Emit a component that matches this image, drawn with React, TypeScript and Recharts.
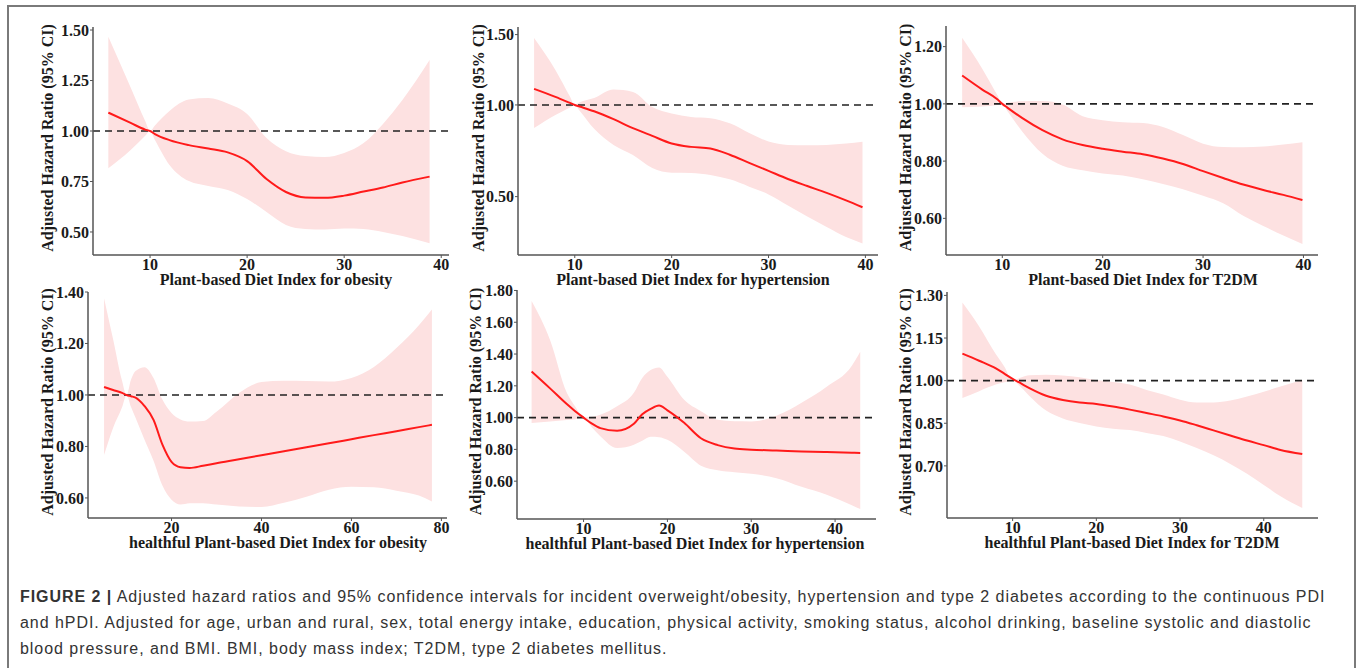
import { ComposedChart, Area, Line, XAxis, YAxis, ReferenceLine } from "recharts";

const serif = '"Liberation Serif", "Times New Roman", serif';
const sans = '"Liberation Sans", Arial, Helvetica, sans-serif';
const yTitle = "Adjusted Hazard Ratio (95% CI)";

// PDI - obesity
const pdiObX = [5.7, 8, 9.5, 10, 10.5, 12, 14, 16, 18, 20, 22, 24, 26, 28, 30, 32, 34, 36, 38.8];
const pdiObHr = [1.091, 1.04, 1.007, 1.0, 0.985, 0.955, 0.93, 0.913, 0.894, 0.851, 0.762, 0.698, 0.671, 0.669, 0.68, 0.7, 0.72, 0.745, 0.774];
const pdiObLo = [0.815, 0.906, 0.976, 1.0, 0.956, 0.832, 0.752, 0.728, 0.708, 0.663, 0.599, 0.535, 0.515, 0.512, 0.517, 0.515, 0.5, 0.48, 0.444];
const pdiObHi = [1.467, 1.216, 1.05, 1.0, 1.027, 1.099, 1.156, 1.163, 1.136, 1.084, 0.965, 0.9, 0.876, 0.871, 0.891, 0.94, 1.035, 1.153, 1.351];

// PDI - hypertension
const pdiHtX = [5.8, 8, 9.5, 10, 10.5, 12, 14, 16, 18, 20, 22, 24, 26, 28, 30, 32, 34, 36, 38, 39.7];
const pdiHtHr = [1.105, 1.052, 1.013, 1.0, 0.99, 0.96, 0.911, 0.857, 0.812, 0.769, 0.75, 0.741, 0.707, 0.664, 0.623, 0.583, 0.549, 0.517, 0.483, 0.453];
const pdiHtLo = [0.858, 0.937, 0.983, 1.0, 0.963, 0.853, 0.761, 0.706, 0.638, 0.614, 0.613, 0.603, 0.581, 0.546, 0.51, 0.461, 0.414, 0.372, 0.334, 0.311];
const pdiHtHi = [1.474, 1.236, 1.055, 1.0, 1.017, 1.045, 1.101, 1.085, 0.987, 0.946, 0.925, 0.917, 0.886, 0.829, 0.78, 0.761, 0.759, 0.761, 0.769, 0.779];

// PDI - T2DM
const pdiDmX = [6, 8, 9.5, 10, 10.5, 12, 14, 16, 18, 20, 22, 24, 26, 28, 30, 32, 34, 36, 38, 39.9];
const pdiDmHr = [1.099, 1.05, 1.016, 1.0, 0.987, 0.95, 0.908, 0.876, 0.856, 0.843, 0.833, 0.824, 0.809, 0.79, 0.765, 0.741, 0.718, 0.699, 0.682, 0.664];
const pdiDmLo = [0.988, 0.991, 0.996, 1.0, 0.975, 0.903, 0.826, 0.784, 0.768, 0.757, 0.75, 0.737, 0.72, 0.702, 0.679, 0.653, 0.609, 0.573, 0.54, 0.51];
const pdiDmHi = [1.231, 1.123, 1.031, 1.0, 1.004, 1.009, 1.01, 0.998, 0.957, 0.943, 0.936, 0.933, 0.919, 0.891, 0.861, 0.849, 0.848, 0.851, 0.858, 0.866];

// hPDI - obesity
const hpdiObX = [5, 7, 9, 10, 11, 12, 14, 16, 18, 20, 22, 24, 27, 30, 35, 40, 45, 50, 55, 60, 65, 70, 75, 77.9];
const hpdiObHr = [1.031, 1.019, 1.008, 1.0, 0.995, 0.99, 0.957, 0.903, 0.806, 0.74, 0.719, 0.716, 0.725, 0.735, 0.75, 0.766, 0.781, 0.797, 0.812, 0.828, 0.844, 0.859, 0.875, 0.884];
const hpdiObLo = [0.767, 0.872, 0.952, 1.0, 0.953, 0.911, 0.826, 0.744, 0.647, 0.593, 0.574, 0.579, 0.579, 0.574, 0.567, 0.565, 0.581, 0.605, 0.632, 0.643, 0.641, 0.628, 0.609, 0.586];
const hpdiObHi = [1.376, 1.217, 1.055, 1.0, 1.06, 1.093, 1.108, 1.066, 0.981, 0.93, 0.905, 0.897, 0.899, 0.935, 1.008, 1.05, 1.055, 1.054, 1.052, 1.066, 1.109, 1.182, 1.271, 1.332];

// hPDI - hypertension
const hpdiHtX = [3.8, 6, 8, 9, 10, 11, 12, 14, 16, 17, 18, 19, 20, 22, 24, 26, 28, 30, 33, 36, 39, 42, 43];
const hpdiHtHr = [1.29, 1.184, 1.085, 1.04, 1.0, 0.962, 0.934, 0.917, 0.961, 1.021, 1.055, 1.076, 1.046, 0.967, 0.87, 0.827, 0.805, 0.798, 0.793, 0.787, 0.783, 0.779, 0.777];
const hpdiHtLo = [0.966, 0.976, 0.985, 0.99, 1.0, 0.938, 0.883, 0.808, 0.829, 0.854, 0.879, 0.876, 0.86, 0.785, 0.697, 0.668, 0.656, 0.647, 0.619, 0.565, 0.515, 0.449, 0.425];
const hpdiHtHi = [1.734, 1.489, 1.156, 1.07, 1.0, 1.005, 1.018, 1.071, 1.156, 1.25, 1.3, 1.316, 1.257, 1.112, 1.04, 0.986, 0.977, 0.976, 1.011, 1.093, 1.194, 1.326, 1.414];

// hPDI - T2DM
const hpdiDmX = [4, 6, 8, 9, 10, 11, 12, 14, 16, 18, 20, 22, 24, 26, 28, 30, 32, 34, 36, 38, 40, 42, 44.6];
const hpdiDmHr = [1.095, 1.07, 1.043, 1.025, 1.006, 0.99, 0.974, 0.947, 0.932, 0.923, 0.918, 0.909, 0.898, 0.886, 0.874, 0.86, 0.843, 0.825, 0.807, 0.789, 0.773, 0.756, 0.742];
const hpdiDmLo = [0.939, 0.963, 0.986, 0.994, 1.0, 0.977, 0.946, 0.895, 0.867, 0.851, 0.839, 0.831, 0.826, 0.816, 0.805, 0.786, 0.763, 0.737, 0.707, 0.672, 0.633, 0.593, 0.552];
const hpdiDmHi = [1.275, 1.191, 1.093, 1.05, 1.0, 1.011, 1.019, 1.021, 1.018, 1.012, 1.002, 0.995, 0.986, 0.967, 0.951, 0.933, 0.923, 0.923, 0.93, 0.944, 0.961, 0.979, 1.002];

// tick labels
const xTicks40 = [10, 20, 30, 40];
const xTicks80 = [20, 40, 60, 80];
const yTicksPdiOb = [0.5, 0.75, 1.0, 1.25, 1.5];
const yTicksPdiHt = [0.5, 1.0, 1.5];
const yTicksPdiDm = [0.6, 0.8, 1.0, 1.2];
const yTicksHpdiOb = [0.6, 0.8, 1.0, 1.2, 1.4];
const yTicksHpdiHt = [0.6, 0.8, 1.0, 1.2, 1.4, 1.6, 1.8];
const yTicksHpdiDm = [0.7, 0.85, 1.0, 1.15, 1.3];

type PanelDef = {
  box: [number, number, number, number];
  x: number[];
  hr: number[];
  lo: number[];
  hi: number[];
  xDomain: [number, number];
  yDomain: [number, number];
  xTicks: number[];
  yTicks: number[];
  scale?: "linear" | "sqrt";
  xTitle: string;
  xTitleX: number;
  yTitleX: number;
};

const panels: PanelDef[] = [
  { box: [93, 27, 449, 255], x: pdiObX, hr: pdiObHr, lo: pdiObLo, hi: pdiObHi, xDomain: [4.12, 40.8], yDomain: [0.386, 1.515], xTicks: xTicks40, yTicks: yTicksPdiOb, xTitle: "Plant-based Diet Index for obesity", xTitleX: 276, yTitleX: 47 },
  { box: [518, 27, 878, 255], x: pdiHtX, hr: pdiHtHr, lo: pdiHtLo, hi: pdiHtHi, xDomain: [4.14, 41.3], yDomain: [0.271, 1.56], xTicks: xTicks40, yTicks: yTicksPdiHt, scale: "sqrt", xTitle: "Plant-based Diet Index for hypertension", xTitleX: 693, yTitleX: 478 },
  { box: [946, 26, 1318, 255], x: pdiDmX, hr: pdiDmHr, lo: pdiDmLo, hi: pdiDmHi, xDomain: [4.39, 41.45], yDomain: [0.472, 1.272], xTicks: xTicks40, yTicks: yTicksPdiDm, xTitle: "Plant-based Diet Index for T2DM", xTitleX: 1143, yTitleX: 905 },
  { box: [88, 292, 447, 518], x: hpdiObX, hr: hpdiObHr, lo: hpdiObLo, hi: hpdiObHi, xDomain: [1.43, 81.25], yDomain: [0.522, 1.4], xTicks: xTicks80, yTicks: yTicksHpdiOb, xTitle: "healthful Plant-based Diet Index for obesity", xTitleX: 278, yTitleX: 47 },
  { box: [517, 290, 876, 519], x: hpdiHtX, hr: hpdiHtHr, lo: hpdiHtLo, hi: hpdiHtHi, xDomain: [2.06, 44.88], yDomain: [0.362, 1.803], xTicks: xTicks40, yTicks: yTicksHpdiHt, xTitle: "healthful Plant-based Diet Index for hypertension", xTitleX: 695, yTitleX: 475 },
  { box: [947, 292, 1318, 518], x: hpdiDmX, hr: hpdiDmHr, lo: hpdiDmLo, hi: hpdiDmHi, xDomain: [2.16, 46.48], yDomain: [0.5165, 1.312], xTicks: xTicks40, yTicks: yTicksHpdiDm, xTitle: "healthful Plant-based Diet Index for T2DM", xTitleX: 1132, yTitleX: 905 },
];

const AX_W = 80;
const TOP = 10;
const RIGHT = 12;
const AX_H = 45;

function ChartPanel({ p }: { p: PanelDef }) {
  const [x0, y0, x1, y1] = p.box;
  const left = x0 - AX_W;
  const top = y0 - TOP;
  const width = x1 - x0 + AX_W + RIGHT;
  const height = y1 - y0 + TOP + AX_H;
  const rows = p.x.map((x, i) => ({ x, hr: p.hr[i], ci: [p.lo[i], p.hi[i]] }));
  const tick = { fontFamily: serif, fontSize: 16, fontWeight: 700, fill: "#1a1a1a" };
  const titleStyle = { fontFamily: serif, fontSize: 16, fontWeight: 700, fill: "#1a1a1a" };
  const yMid = TOP + (y1 - y0) / 2 - 3;
  const yx = p.yTitleX - left;

  return (
    <div style={{ position: "absolute", left, top }}>
      <ComposedChart width={width} height={height} data={rows} margin={{ top: TOP, right: RIGHT, left: 0, bottom: 0 }}>
        <XAxis
          type="number"
          dataKey="x"
          domain={p.xDomain}
          ticks={p.xTicks}
          allowDataOverflow
          height={AX_H}
          tick={tick}
          tickSize={3}
          tickMargin={1}
          axisLine={{ stroke: "#555", strokeWidth: 1.5 }}
          tickLine={{ stroke: "#555" }}
          label={() => (
            <text x={p.xTitleX - left} y={y1 - top + 30} textAnchor="middle" style={titleStyle}>
              {p.xTitle}
            </text>
          )}
        />
        <YAxis
          type="number"
          domain={p.yDomain}
          ticks={p.yTicks}
          scale={p.scale ?? "linear"}
          allowDataOverflow
          width={AX_W}
          tick={tick}
          tickSize={3}
          tickMargin={1}
          tickFormatter={(v: number) => v.toFixed(2)}
          axisLine={{ stroke: "#555", strokeWidth: 1.5 }}
          tickLine={{ stroke: "#555" }}
          label={() => (
            <text
              x={yx}
              y={yMid}
              textAnchor="middle"
              dominantBaseline="central"
              transform={`rotate(-90, ${yx}, ${yMid})`}
              style={titleStyle}
            >
              {yTitle}
            </text>
          )}
        />
        <Area dataKey="ci" type="monotone" stroke="none" fill="#fde1e1" fillOpacity={1} isAnimationActive={false} activeDot={false} />
        <ReferenceLine y={1} stroke="#222" strokeWidth={1.6} strokeDasharray="7 5" />
        <Line dataKey="hr" type="monotone" stroke="#ff1a1a" strokeWidth={2} dot={false} activeDot={false} isAnimationActive={false} />
      </ComposedChart>
    </div>
  );
}

export default function App() {
  return (
    <div style={{ position: "absolute", left: 0, top: 0, width: 1357, height: 668, overflow: "hidden", background: "#fff" }}>
      <div style={{ position: "absolute", left: 7, top: 5, width: 1349, height: 700, boxSizing: "border-box", border: "2px solid #7a7a7a" }} />
      {panels.map((p, i) => (
        <ChartPanel key={i} p={p} />
      ))}
      <div style={{ position: "absolute", left: 20, top: 584, fontFamily: sans, fontSize: 16, letterSpacing: "0.95px", lineHeight: "26px", color: "#333", whiteSpace: "nowrap" }}>
        <div>
          <b>FIGURE 2 |</b> Adjusted hazard ratios and 95% confidence intervals for incident overweight/obesity, hypertension and type 2 diabetes according to the continuous PDI
        </div>
        <div>
          and hPDI. Adjusted for age, urban and rural, sex, total energy intake, education, physical activity, smoking status, alcohol drinking, baseline systolic and diastolic
        </div>
        <div>blood pressure, and BMI. BMI, body mass index; T2DM, type 2 diabetes mellitus.</div>
      </div>
    </div>
  );
}
